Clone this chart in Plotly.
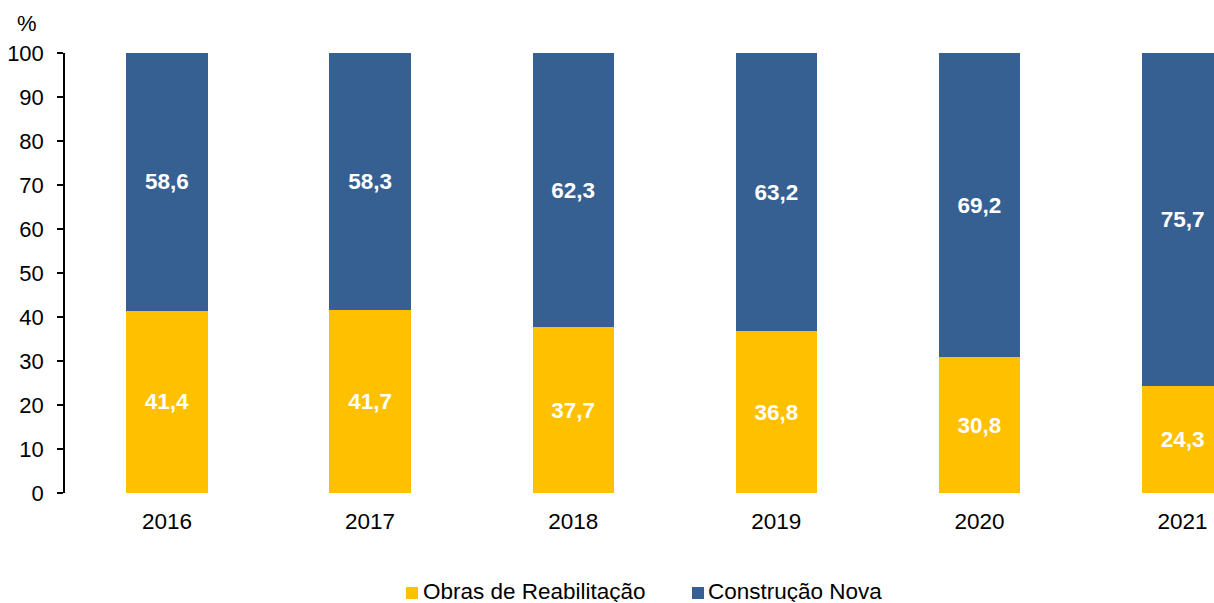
import plotly.graph_objects as go

# Share of licensed works by type (%)
years = ["2016", "2017", "2018", "2019", "2020", "2021"]
reabilitacao = [41.4, 41.7, 37.7, 36.8, 30.8, 24.3]
construcao_nova = [58.6, 58.3, 62.3, 63.2, 69.2, 75.7]
series_names = ["Obras de Reabilitação", "Construção Nova"]

GOLD = "#FFC000"
BLUE = "#376092"
FONT = "Liberation Sans, Arial, sans-serif"
W, H = 1214, 603
ML, MR, MT, MB = 65, 0, 53, 110
PW, PH = W - ML - MR, H - MT - MB


def px_x(px):
    """Horizontal pixel position -> paper fraction."""
    return (px - ML) / PW


def px_y(py):
    """Vertical pixel position (from top) -> paper fraction."""
    return (H - MB - py) / PH


fig = go.Figure()
for vals, name, color in [(reabilitacao, series_names[0], GOLD),
                          (construcao_nova, series_names[1], BLUE)]:
    fig.add_trace(go.Bar(
        x=years, y=vals, name=name, showlegend=False,
        marker=dict(color=color, line=dict(width=0)),
        texttemplate="%{y:.1f}", textposition="inside", insidetextanchor="middle",
        textangle=0, textfont=dict(color="white", size=22.5, family=FONT, weight="bold"),
    ))

# Legend drawn as swatches + labels below the plot
shapes = []
annotations = []
for (sx, tx), name, color in zip([(406, 423), (692, 708)], series_names, [GOLD, BLUE]):
    shapes.append(dict(
        type="rect", xref="paper", yref="paper",
        x0=px_x(sx), x1=px_x(sx + 12), y0=px_y(599), y1=px_y(587),
        fillcolor=color, line=dict(width=0),
    ))
    annotations.append(dict(
        text=name, xref="paper", yref="paper", x=px_x(tx - 2), y=px_y(591),
        xanchor="left", yanchor="middle", showarrow=False, height=22,
        font=dict(size=22.5, family=FONT, color="black"),
    ))

annotations.append(dict(
    text="%", xref="paper", yref="paper", x=px_x(27), y=px_y(24),
    xanchor="center", yanchor="middle", showarrow=False,
    font=dict(size=22, family=FONT, color="black"),
))

fig.update_layout(
    barmode="stack",
    bargap=0.6,
    separators=",.",
    width=W, height=H,
    margin=dict(l=ML, r=MR, t=MT, b=MB, autoexpand=False),
    paper_bgcolor="white", plot_bgcolor="white",
    font=dict(family=FONT, size=22, color="black"),
    showlegend=False,
    shapes=shapes,
    annotations=annotations,
)
fig.update_xaxes(
    type="category", range=[-0.502, 5.155], automargin=False,
    showline=False, ticks="", showgrid=False, zeroline=False,
    ticklabelstandoff=12,
    tickfont=dict(size=22.5, family=FONT, color="black"),
)
fig.update_yaxes(
    range=[0, 100], dtick=10, showgrid=False, zeroline=False, automargin=False,
    showline=True, linecolor="black", linewidth=1.5,
    ticks="outside", ticklen=6, tickwidth=1.5, tickcolor="black",
    ticklabelstandoff=9,
    tickfont=dict(size=22, family=FONT, color="black"),
)

fig.write_html("out.html")
